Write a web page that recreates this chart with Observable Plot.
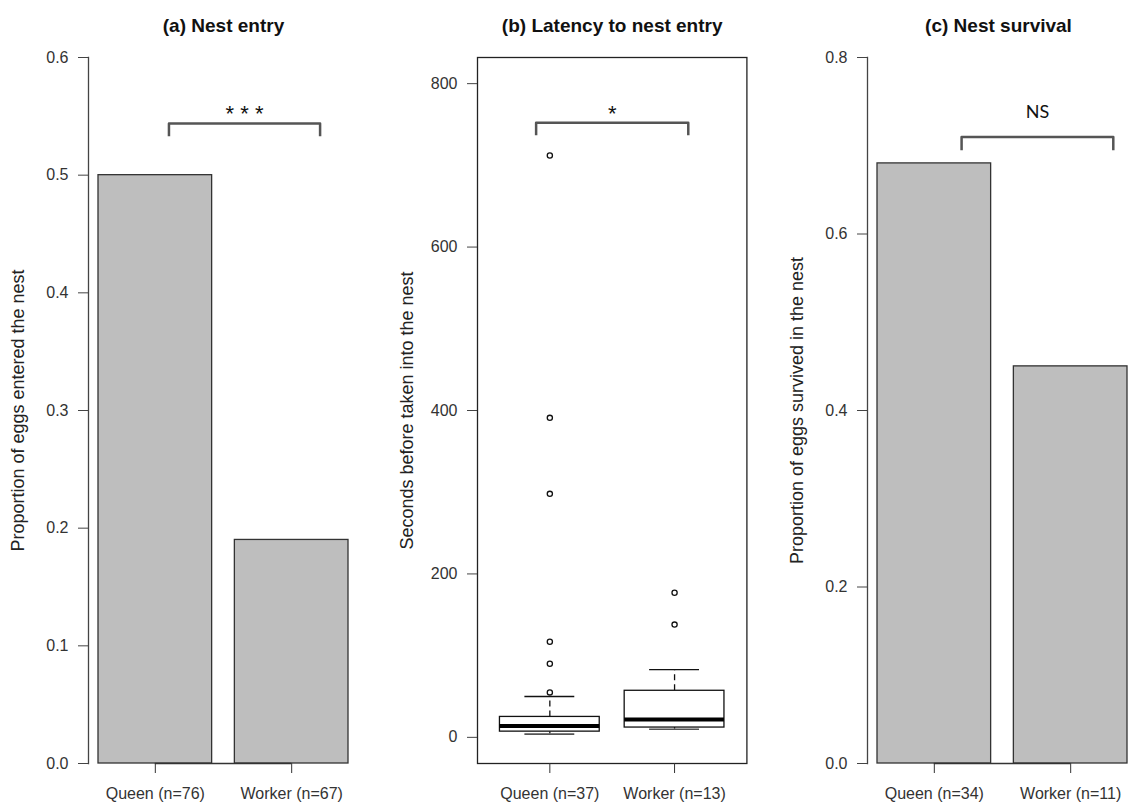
<!DOCTYPE html>
<html><head><meta charset="utf-8">
<script src="https://cdn.jsdelivr.net/npm/d3@7"></script>
<script src="https://cdn.jsdelivr.net/npm/@observablehq/plot@0.6"></script>
<style>
html,body{margin:0;padding:0;background:#fff;overflow:hidden}
#chart{position:relative;width:1129px;height:805px;overflow:hidden;background:#fff}
.panel{position:absolute;top:0}
</style></head><body><div id="chart"></div>
<script>
// ---- Panel (a) Nest entry
const entryLabels = ["Queen (n=76)", "Worker (n=67)"];
const entryValues = [0.5, 0.19];
const entryTicks = [0, 0.1, 0.2, 0.3, 0.4, 0.5, 0.6];
// ---- Panel (b) Latency to nest entry (box plot statistics)
const latencyLabels = ["Queen (n=37)", "Worker (n=13)"];
const latencyLower = [4, 10];
const latencyQ1 = [7, 12];
const latencyMedian = [14, 22];
const latencyQ3 = [25, 57];
const latencyUpper = [50, 83];
const latencyOutliers = [[55, 90, 117, 298, 391, 712], [138, 177]];
const latencyTicks = [0, 200, 400, 600, 800];
// ---- Panel (c) Nest survival
const survivalLabels = ["Queen (n=34)", "Worker (n=11)"];
const survivalValues = [0.68, 0.45];
const survivalTicks = [0, 0.2, 0.4, 0.6, 0.8];
// ---- Significance brackets (in each panel's data units)
const bracketA = {x1: 0.82, x2: 2.15, top: 0.544, tip: 0.533, label: "* * *", ly: 0.5575};
const bracketB = {x1: 0.89, x2: 2.11, top: 752, tip: 737, label: "*", ly: 770};
const bracketC = {x1: 0.94, x2: 2.275, top: 0.710, tip: 0.695, label: "NS", ly: 0.738};

const FONT = "Liberation Sans, Arial, Helvetica, sans-serif";
const chart = document.getElementById("chart");

function bracketMarks(b, labelFont, labelSize, labelDy) {
  return [
    Plot.line([[b.x1, b.tip], [b.x1, b.top], [b.x2, b.top], [b.x2, b.tip]],
      {stroke: "#555", strokeWidth: 2.5, strokeLinejoin: "round", strokeLinecap: "butt"}),
    Plot.text([b.label], {x: (b.x1 + b.x2) / 2, y: b.ly, fontFamily: labelFont, fontSize: labelSize, dy: labelDy, fill: "#111"})
  ];
}

function commonText(title, ylab) {
  return [
    Plot.text([title], {frameAnchor: "top", dy: -39, fontWeight: "bold", fontSize: 19, fill: "#111"}),
    Plot.text([ylab], {frameAnchor: "left", textAnchor: "middle", dx: -70, rotate: -90, fontSize: 18, fill: "#222"})
  ];
}

function barPanel({labels, values, ticks, ymax, title, ylab, bracket, left, width, marginLeft, marginRight, xRange, bracketFont, bracketSize, bracketDy}) {
  const rows = labels.map((l, i) => ({label: l, value: values[i], mid: 0.7 + 1.2 * i}));
  const mids = rows.map(d => d.mid);
  const byMid = new Map(rows.map(d => [d.mid, d.label]));
  const xOpts = {domain: [0.112, 2.488]};
  if (xRange) xOpts.range = xRange;
  const svg = Plot.plot({
    width, height: 805, marginTop: 57, marginBottom: 42, marginLeft, marginRight,
    x: xOpts,
    y: {domain: [0, ymax]},
    style: {fontFamily: FONT, fontSize: "16px", color: "#333", background: "transparent"},
    marks: [
      Plot.rectY(rows, {x1: d => d.mid - 0.5, x2: d => d.mid + 0.5, y: "value", fill: "#bebebe", stroke: "#333", strokeWidth: 1.3}),
      Plot.ruleY([0], {x1: mids[0], x2: mids[mids.length - 1], stroke: "#333", strokeWidth: 1.3}),
      Plot.frame({anchor: "left", stroke: "#444", strokeWidth: 1.3}),
      Plot.axisY({ticks, tickFormat: ".1f", tickSize: 10, tickPadding: 10, label: null, stroke: "#444"}),
      Plot.axisX({ticks: mids, tickFormat: d => byMid.get(d), tickSize: 10, tickPadding: 14, label: null}),
      ...bracketMarks(bracket, bracketFont, bracketSize, bracketDy),
      ...commonText(title, ylab)
    ]
  });
  svg.classList.add("panel");
  svg.style.left = left + "px";
  chart.appendChild(svg);
}

barPanel({labels: entryLabels, values: entryValues, ticks: entryTicks, ymax: 0.6,
  title: "(a) Nest entry", ylab: "Proportion of eggs entered the nest", bracket: bracketA,
  left: 0, width: 380, marginLeft: 88, marginRight: 22, bracketFont: FONT, bracketSize: 22, bracketDy: 6});

barPanel({labels: survivalLabels, values: survivalValues, ticks: survivalTicks, ymax: 0.8,
  title: "(c) Nest survival", ylab: "Proportion of eggs survived in the nest", bracket: bracketC,
  left: 760, width: 369, marginLeft: 107, marginRight: 0, xRange: [107, 377], bracketFont: "Lato, Open Sans, sans-serif", bracketSize: 18, bracketDy: 0});

// ---- Panel (b) box plot
{
  const stats = latencyLabels.map((l, i) => ({
    label: l, pos: i + 1, lower: latencyLower[i], q1: latencyQ1[i], median: latencyMedian[i],
    q3: latencyQ3[i], upper: latencyUpper[i]
  }));
  const outl = latencyOutliers.flatMap((arr, i) => arr.map(v => ({pos: i + 1, value: v})));
  const byPos = new Map(stats.map(d => [d.pos, d.label]));
  const svg = Plot.plot({
    width: 380, height: 805, marginTop: 57, marginBottom: 42, marginLeft: 97, marginRight: 13.6,
    x: {domain: [0.42, 2.58]},
    y: {domain: [-32, 832]},
    style: {fontFamily: FONT, fontSize: "16px", color: "#333", background: "transparent"},
    marks: [
      Plot.ruleX(stats, {x: "pos", y1: "q3", y2: "upper", stroke: "#111", strokeWidth: 1.3, strokeDasharray: "6,4"}),
      Plot.ruleX(stats, {x: "pos", y1: "lower", y2: "q1", stroke: "#111", strokeWidth: 1.3, strokeDasharray: "6,4"}),
      Plot.ruleY(stats, {y: "upper", x1: d => d.pos - 0.2, x2: d => d.pos + 0.2, stroke: "#111", strokeWidth: 1.3}),
      Plot.ruleY(stats, {y: "lower", x1: d => d.pos - 0.2, x2: d => d.pos + 0.2, stroke: "#555", strokeWidth: 1.6}),
      Plot.rect(stats, {x1: d => d.pos - 0.4, x2: d => d.pos + 0.4, y1: "q1", y2: "q3", fill: "#fff", stroke: "#111", strokeWidth: 1.3}),
      Plot.ruleY(stats, {y: "median", x1: d => d.pos - 0.4, x2: d => d.pos + 0.4, stroke: "#000", strokeWidth: 4}),
      Plot.dot(outl, {x: "pos", y: "value", r: 2.6, stroke: "#111", strokeWidth: 1.3, fill: "none"}),
      Plot.frame({stroke: "#222", strokeWidth: 1.3}),
      Plot.axisY({ticks: latencyTicks, tickSize: 10, tickPadding: 10, label: null, stroke: "#444"}),
      Plot.axisX({ticks: stats.map(d => d.pos), tickFormat: d => byPos.get(d), tickSize: 10, tickPadding: 14, label: null}),
      ...bracketMarks(bracketB, FONT, 22, 6),
      ...commonText("(b) Latency to nest entry", "Seconds before taken into the nest")
    ]
  });
  svg.classList.add("panel");
  svg.style.left = "380px";
  chart.appendChild(svg);
}
</script>
</body></html>
